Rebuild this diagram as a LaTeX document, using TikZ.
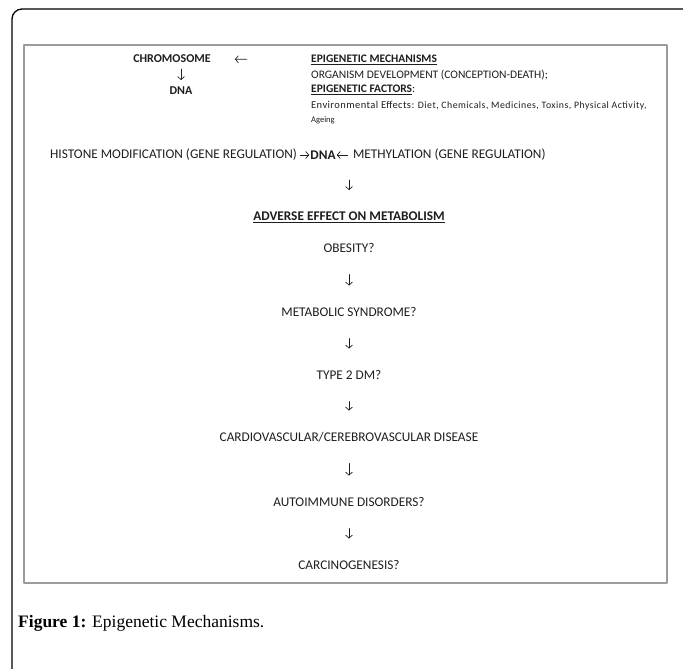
\documentclass[tikz,border=0pt]{standalone}
\usepackage{fontspec}
\setmainfont{Carlito}
\newfontfamily\capfont{Liberation Serif}
\usetikzlibrary{arrows.meta,positioning}
\definecolor{Boxline}{HTML}{9C9C9C}
\definecolor{Ink}{HTML}{1E1E1E}

\begin{document}
\begin{tikzpicture}[x=1pt,y=-1pt,line join=round,line cap=round,
  lbl/.style={inner sep=0pt,text=Ink,font=\fontsize{13.3}{15}\selectfont},
  sml/.style={inner sep=0pt,text=Ink,anchor=west,font=\fontsize{11.5}{13}\selectfont},
  flow/.style={Ink,line width=0.7pt,-{Straight Barb[length=3pt,width=7pt]}}]
\useasboundingbox (0,0) rectangle (683,669);

% ---- page frame and figure box ----
\draw[line width=1.3pt,rounded corners=10pt] (12,672) -- (12,9) -- (690,9);
\draw[Boxline,line width=1.6pt] (24,45) rectangle (667,583);

% ---- top left: chromosome / dna ----
\node[lbl,font=\fontsize{12}{14}\selectfont\bfseries] (chrom) at (172,59) {CHROMOSOME};
\node[lbl,font=\fontsize{12}{14}\selectfont\bfseries] (dna) at (181,91) {DNA};
\draw[flow,shorten <=10pt,shorten >=11pt] (dna |- chrom.center) -- (dna.center);

% ---- top right: mechanisms and factors ----
\node[sml] (epimech) at (311,60) {\bfseries\underline{EPIGENETIC MECHANISMS}};
\node[sml] (organism) at (311,75) {ORGANISM DEVELOPMENT (CONCEPTION-DEATH);};
\node[sml] (epifac) at (311,90) {\underline{\bfseries EPIGENETIC FACTORS}:};
\node[sml,font=\fontsize{9.8}{11}\selectfont\addfontfeature{LetterSpace=5}] (environ) at (311,105.5)
  {{\fontsize{10.5}{12}\selectfont\addfontfeature{LetterSpace=4}Environmental Effects:}
   Diet, Chemicals, Medicines, Toxins, Physical Activity,};
\node[sml,font=\fontsize{8.5}{10}\selectfont] (ageing) at (311,120) {Ageing};
\draw[flow,shorten <=64pt,shorten >=24pt] (epimech.west) -- (chrom.east);

% ---- histone / methylation line ----
\node[lbl,anchor=west] (histone) at (50,155) {HISTONE MODIFICATION (GENE REGULATION)};
\node[lbl,font=\fontsize{13.3}{15}\selectfont\bfseries,right=13pt of histone] (dna2) {DNA};
\node[lbl,right=17pt of dna2] (methyl) {METHYLATION (GENE REGULATION)};
\draw[flow,shorten <=3pt,shorten >=1pt] (histone) -- (dna2);
\draw[flow,shorten <=5pt,shorten >=1pt] (methyl) -- (dna2);

% ---- consequences ----
\node[lbl,font=\fontsize{13.3}{15}\selectfont\bfseries] (adverse) at (349,217)
  {\underline{ADVERSE EFFECT ON METABOLISM}};
\foreach \nm/\yy/\tx in {obesity/248/{OBESITY?}, metsyn/312/{METABOLIC SYNDROME?},
    typetwo/375/{TYPE 2 DM?}, cardio/437/{CARDIOVASCULAR/CEREBROVASCULAR DISEASE},
    autoimm/502/{AUTOIMMUNE DISORDERS?}, carcino/565/{CARCINOGENESIS?}}
  \node[lbl] (\nm) at (349,\yy) {\tx};
\draw[flow,shorten <=25pt,shorten >=27pt] (adverse |- histone) -- (adverse.center);
\foreach \a/\b in {obesity/metsyn, metsyn/typetwo, typetwo/cardio,
                   cardio/autoimm, autoimm/carcino}
  \draw[flow,shorten <=26.5pt,shorten >=26.5pt] (\a.center) -- (\b.center);

% ---- caption ----
\node[anchor=base west,inner sep=0pt,font=\capfont\fontsize{17.5}{20}\selectfont] (caption)
  at (18,627) {\textbf{Figure 1:} Epigenetic Mechanisms.};
\end{tikzpicture}
\end{document}
